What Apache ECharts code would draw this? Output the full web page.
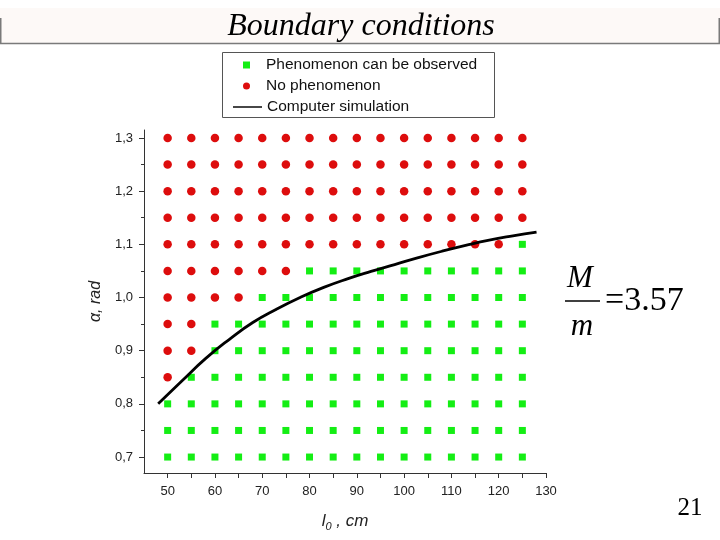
<!DOCTYPE html>
<html>
<head>
<meta charset="utf-8">
<script src="https://cdn.jsdelivr.net/npm/echarts@6/dist/echarts.min.js"></script>
<style>
html,body{margin:0;padding:0;background:#fff;}
#chart{width:720px;height:540px;}
</style>
</head>
<body>
<div id="chart"></div>
<script>
// ---- data ----
const lengths = [50, 55, 60, 65, 70, 75, 80, 85, 90, 95, 100, 105, 110, 115, 120, 125];
const angles = [0.7, 0.75, 0.8, 0.85, 0.9, 0.95, 1.0, 1.05, 1.1, 1.15, 1.2, 1.25, 1.3];
// highest angle at which the phenomenon was observed, for each length
const observedMax = [0.8, 0.85, 0.95, 0.95, 1.0, 1.0, 1.05, 1.05, 1.05, 1.05, 1.05, 1.05, 1.05, 1.05, 1.05, 1.1];
// computer simulation curve
const simLength = [48, 53, 58, 63, 68, 73, 78, 83, 88, 93, 98, 103, 108, 113, 118, 123, 128];
const simAlpha = [0.800, 0.843, 0.885, 0.921, 0.953, 0.978, 1.000, 1.019, 1.035, 1.049, 1.062, 1.075, 1.087, 1.098, 1.108, 1.116, 1.123];
// ticks and labels
const xTicks = [50, 55, 60, 65, 70, 75, 80, 85, 90, 95, 100, 105, 110, 115, 120, 125, 130];
const xLabels = [50, 60, 70, 80, 90, 100, 110, 120, 130];
const yLabels = [0.7, 0.8, 0.9, 1.0, 1.1, 1.2, 1.3];
const yMinorTicks = [0.75, 0.85, 0.95, 1.05, 1.15, 1.25];

const observed = [];
const notObserved = [];
lengths.forEach(function (l, i) {
  angles.forEach(function (a) {
    if (a <= observedMax[i] + 1e-9) observed.push([l, a]);
    else notObserved.push([l, a]);
  });
});
const simData = simLength.map(function (l, i) { return [l, simAlpha[i]]; });

const GREEN = '#14ee14';
const RED = '#dd0d0d';
const SANS = 'Arial, "Liberation Sans", sans-serif';
const SERIF = '"Times New Roman", "Liberation Serif", serif';

const chart = echarts.init(document.getElementById('chart'));
chart.setOption({
  animation: false,
  backgroundColor: '#ffffff',
  grid: { left: 144, right: 174, top: 130, bottom: 67, containLabel: false },
  legend: [
    {
      data: [{ name: 'Phenomenon can be observed', icon: 'path://M0 0H10V10H0Z' }],
      left: 243, top: 57, padding: 0, itemWidth: 29, itemHeight: 7,
      itemStyle: { opacity: 1 },
      textStyle: { fontFamily: SANS, fontSize: 15.5, color: '#111' },
      selectedMode: false
    },
    {
      data: [{ name: 'No phenomenon', icon: 'circle' }],
      left: 243, top: 78, padding: 0, itemWidth: 29, itemHeight: 7,
      itemStyle: { opacity: 1 },
      textStyle: { fontFamily: SANS, fontSize: 15.5, color: '#111' },
      selectedMode: false
    },
    {
      data: [{ name: 'Computer simulation', icon: 'path://M0 0H40V2H0Z' }],
      left: 233, top: 99, padding: 0, itemWidth: 29, itemHeight: 14,
      itemStyle: { color: '#000', opacity: 1 },
      textStyle: { fontFamily: SANS, fontSize: 15.5, color: '#111' },
      selectedMode: false
    }
  ],
  xAxis: {
    type: 'value', min: 45, max: 130,
    name: '{i|l}{s|0}{i| , cm}',
    nameLocation: 'middle', nameGap: 38,
    nameTextStyle: {
      rich: {
        i: { fontFamily: SANS, fontStyle: 'italic', fontSize: 17, color: '#222' },
        s: { fontFamily: SANS, fontStyle: 'italic', fontSize: 11, color: '#222', padding: [10, 0, 0, 0] }
      }
    },
    axisLine: { show: true, lineStyle: { color: '#333', width: 1 } },
    axisTick: { show: true, length: 5, customValues: xTicks, lineStyle: { color: '#333' } },
    axisLabel: { customValues: xLabels, margin: 12, fontFamily: SANS, fontSize: 13, color: '#222' },
    splitLine: { show: false }
  },
  yAxis: [
    {
      type: 'value', min: 0.67, max: 1.315,
      name: 'α, rad', nameLocation: 'middle', nameGap: 28, nameRotate: 90,
      nameTextStyle: { fontFamily: SANS, fontStyle: 'italic', fontSize: 16, color: '#222' },
      axisLine: { show: true, lineStyle: { color: '#333', width: 1 } },
      axisTick: { show: true, length: 5, customValues: yLabels, lineStyle: { color: '#333' } },
      axisLabel: {
        customValues: yLabels, margin: 11, fontFamily: SANS, fontSize: 13, color: '#222',
        formatter: function (v) { return v.toFixed(1).replace('.', ','); }
      },
      splitLine: { show: false }
    },
    {
      type: 'value', min: 0.67, max: 1.315, position: 'left', offset: 0,
      axisLine: { show: false },
      axisTick: { show: true, length: 3, customValues: yMinorTicks, lineStyle: { color: '#333' } },
      axisLabel: { show: false },
      splitLine: { show: false }
    }
  ],
  series: [
    {
      name: 'Phenomenon can be observed', type: 'scatter', data: observed,
      symbol: 'rect', symbolSize: 7, itemStyle: { color: GREEN, opacity: 1 }, z: 2
    },
    {
      name: 'No phenomenon', type: 'scatter', data: notObserved,
      symbol: 'circle', symbolSize: 8.5, itemStyle: { color: RED, opacity: 1 }, z: 2
    },
    {
      name: 'Computer simulation', type: 'line', data: simData,
      smooth: true, symbol: 'none', lineStyle: { color: '#000', width: 2.8 },
      itemStyle: { color: '#000' }, z: 3
    }
  ],
  graphic: [
    { type: 'rect', shape: { x: 0, y: 8, width: 720, height: 36 }, style: { fill: '#fdf9f7' }, z: -1 },
    { type: 'polyline', shape: { points: [[0.75, 18], [0.75, 43.5], [719.25, 43.5], [719.25, 18]] }, style: { stroke: '#7a7a7a', lineWidth: 1.5, fill: null } },
    { type: 'text', x: 361, y: 27, style: { text: 'Boundary conditions', fontFamily: SERIF, fontStyle: 'italic', fontSize: 32, fill: '#000', align: 'center', verticalAlign: 'middle' } },
    { type: 'rect', shape: { x: 222.5, y: 52.5, width: 272, height: 65 }, style: { fill: null, stroke: '#555', lineWidth: 1 } },
    { type: 'text', x: 580, y: 279, style: { text: 'M', fontFamily: SERIF, fontStyle: 'italic', fontSize: 31, fill: '#000', align: 'center', verticalAlign: 'middle' } },
    { type: 'line', shape: { x1: 565, y1: 301, x2: 600, y2: 301 }, style: { stroke: '#000', lineWidth: 1.6 } },
    { type: 'text', x: 582, y: 327, style: { text: 'm', fontFamily: SERIF, fontStyle: 'italic', fontSize: 31, fill: '#000', align: 'center', verticalAlign: 'middle' } },
    { type: 'text', x: 605, y: 301, style: { text: '=3.57', fontFamily: SERIF, fontSize: 34, fill: '#000', align: 'left', verticalAlign: 'middle' } },
    { type: 'text', x: 690, y: 508, style: { text: '21', fontFamily: SERIF, fontSize: 25, fill: '#000', align: 'center', verticalAlign: 'middle' } }
  ]
});
</script>
</body>
</html>
